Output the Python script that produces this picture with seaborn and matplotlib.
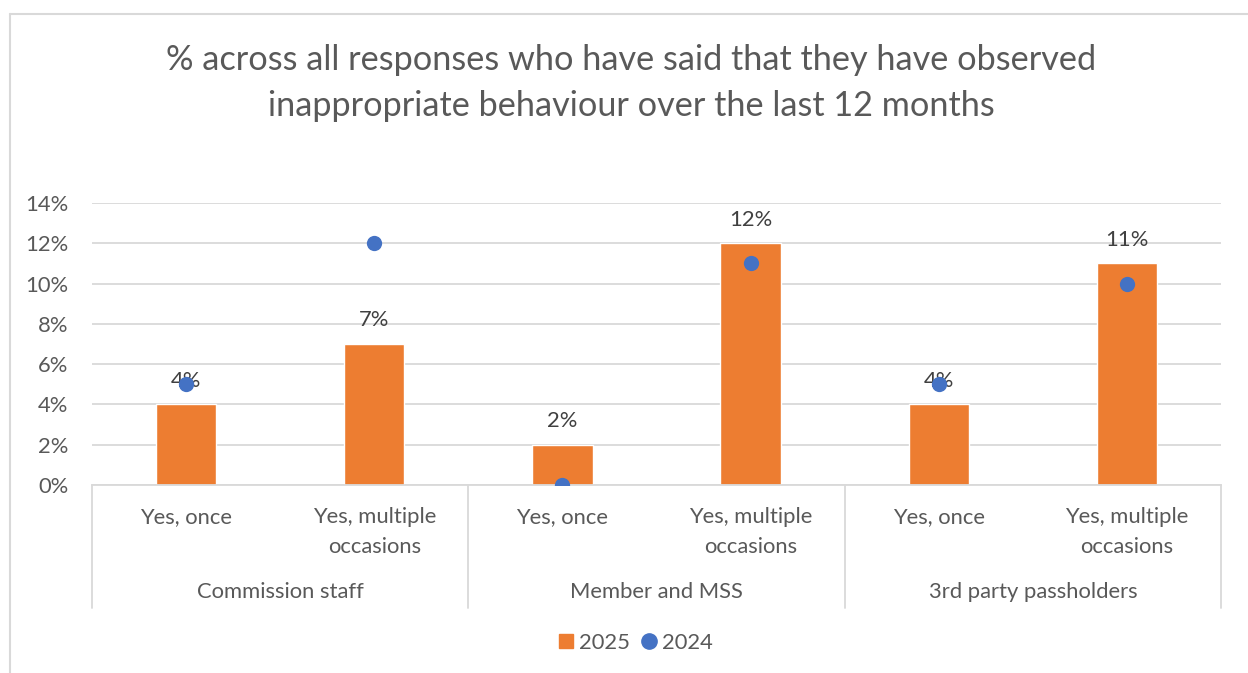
import matplotlib
matplotlib.use("Agg")
import matplotlib.pyplot as plt
import seaborn as sns
import pandas as pd
from matplotlib.lines import Line2D
from matplotlib.transforms import blended_transform_factory

# ---- data ----
groups = ["Commission staff", "Member and MSS", "3rd party passholders"]
responses = ["Yes, once", "Yes, multiple\noccasions"]
values_2025 = [4, 7, 2, 12, 4, 11]
values_2024 = [5, 12, 0, 11, 5, 10]
yticks = [0, 2, 4, 6, 8, 10, 12, 14]
title = "% across all responses who have said that they have observed\ninappropriate behaviour over the last 12 months"

keys = [f"{g}|{r}" for g in groups for r in responses]
df = pd.DataFrame({"key": keys, "v2025": values_2025, "v2024": values_2024})

ORANGE = "#ED7D31"
BLUE = "#4472C4"
TXT = "#595959"
GRID = "#D9D9D9"
FS = 15.8

sns.set_theme(style="white")
plt.rcParams["font.family"] = ["Lato", "DejaVu Sans"]

W, H = 1248, 673
fig = plt.figure(figsize=(W / 100, H / 100), dpi=100)
fig.patch.set_facecolor("white")
ax = fig.add_axes([92 / W, 1 - 485 / H, (1221 - 92) / W, (485 - 203) / H])

sns.barplot(data=df, x="key", y="v2025", order=keys, color=ORANGE, width=0.32,
            saturation=1, ax=ax, zorder=2)
sns.stripplot(data=df, x="key", y="v2024", order=keys, color=BLUE, jitter=False,
              size=11, linewidth=0, ax=ax, zorder=4)

ax.set_ylim(0, 14)
ax.set_xlim(-0.5, len(keys) - 0.5)
ax.set_yticks(yticks)
ax.set_yticklabels([f"{t}%" for t in yticks], color=TXT, fontsize=FS)
ax.tick_params(axis="y", length=0, pad=17)
ax.tick_params(axis="x", length=0, labelbottom=False)
ax.set_xlabel("")
ax.set_ylabel("")
ax.grid(axis="y", color=GRID, linewidth=1.3, zorder=0)
ax.set_axisbelow(True)
for s in ["top", "right", "left"]:
    ax.spines[s].set_visible(False)
ax.spines["bottom"].set_color(GRID)
ax.spines["bottom"].set_linewidth(1.3)

# data labels
for i, v in enumerate(values_2025):
    ax.annotate(f"{v}%", (i, v), xytext=(0, 17), textcoords="offset points",
                ha="center", va="center", fontsize=FS, color="#404040", zorder=3)

# category labels
trans = blended_transform_factory(ax.transData, ax.transAxes)
axh = 485 - 203
def ay(py):
    return (485 - py) / axh

for i, k in enumerate(keys):
    r = k.split("|")[1]
    ax.text(i, ay(507), r, transform=trans, ha="center", va="top", fontsize=FS,
            color=TXT, linespacing=1.62)
for gi, g in enumerate(groups):
    ax.text(gi * 2 + 0.5, ay(592), g, transform=trans, ha="center", va="center",
            fontsize=FS, color=TXT)
for b in [-0.5, 1.5, 3.5, 5.5]:
    ax.plot([b, b], [0, ay(608)], transform=trans, color=GRID, linewidth=1.3,
            clip_on=False)

# title
fig.text(631 / W, 1 - 83 / H, title, ha="center", va="center", fontsize=24.7,
         color=TXT, linespacing=1.53)

# legend
handles = [Line2D([], [], marker="s", linestyle="none", color=ORANGE, markersize=10),
           Line2D([], [], marker="o", linestyle="none", color=BLUE, markersize=11)]
fig.legend(handles, ["2025", "2024"], loc="center", ncol=2,
           bbox_to_anchor=(634 / W, 1 - 643 / H), frameon=False, fontsize=FS,
           labelcolor=TXT, handletextpad=0.1, columnspacing=0.35, handlelength=1.0)

# chart border
fig.add_artist(Line2D([10 / W, 10 / W], [0, 1 - 14 / H], color=GRID, linewidth=1.5,
                      transform=fig.transFigure))
fig.add_artist(Line2D([10 / W, 1], [1 - 14 / H, 1 - 14 / H], color=GRID, linewidth=1.5,
                      transform=fig.transFigure))

fig.savefig("out.png", dpi=100, facecolor="white")
